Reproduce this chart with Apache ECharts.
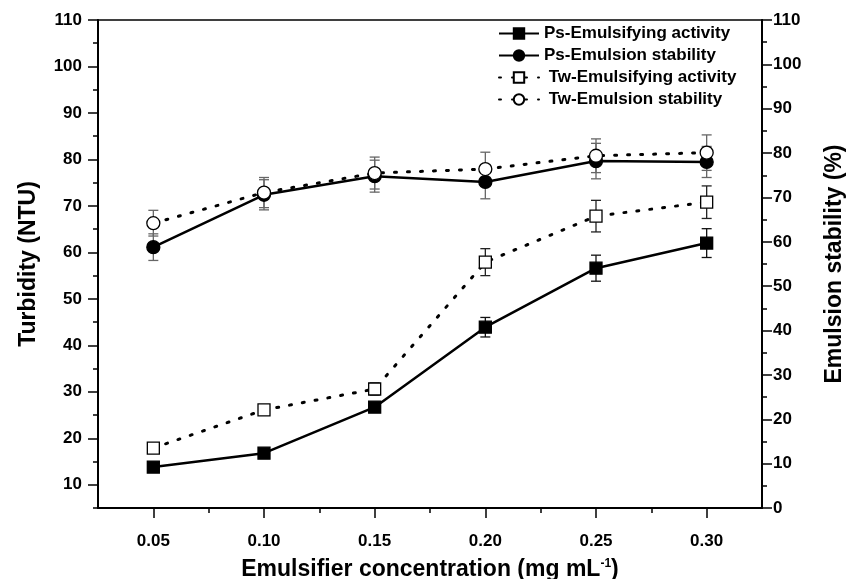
<!DOCTYPE html>
<html>
<head>
<meta charset="utf-8">
<script src="https://cdn.jsdelivr.net/npm/echarts@6/dist/echarts.min.js"></script>
<style>
    html, body { margin: 0; padding: 0; background: #fff; }
    #chart { width: 852px; height: 579px; }
</style>
</head>
<body>
<div id="chart"></div>
<script>
// values
const concentration = [0.05, 0.10, 0.15, 0.20, 0.25, 0.30];
const majorX = [0.05, 0.10, 0.15, 0.20, 0.25, 0.30];
const minorX = [0.075, 0.125, 0.175, 0.225, 0.275];
const leftTicks = [10, 20, 30, 40, 50, 60, 70, 80, 90, 100, 110];
const leftMinor = [5, 15, 25, 35, 45, 55, 65, 75, 85, 95, 105];

const psActivity = [13.8, 16.8, 26.7, 43.9, 56.6, 62.0];
const psActivityErr = [0.6, 0.6, 1.0, 2.1, 2.8, 3.1];
const twActivity = [17.9, 26.1, 30.6, 57.9, 67.8, 70.8];
const twActivityErr = [0.6, 0.6, 1.3, 2.9, 3.4, 3.5];
const psStability = [58.8, 70.6, 74.8, 73.5, 78.2, 78.0];
const psStabilityErr = [3.0, 3.4, 3.6, 3.8, 4.0, 3.5];
const twStability = [64.2, 71.1, 75.5, 76.4, 79.4, 80.1];
const twStabilityErr = [2.9, 3.4, 3.6, 3.8, 3.8, 4.0];

const font = "Liberation Sans, Arial, sans-serif";

const pairs = function (ys, errs) {
    return concentration.map((x, i) => (errs ? [x, ys[i], errs[i]] : [x, ys[i]]));
};

const errorBar = function (ys, errs, yIndex, color) {
    return {
        type: "custom",
        xAxisIndex: 0,
        yAxisIndex: yIndex,
        z: 1,
        silent: true,
        data: pairs(ys, errs),
        encode: { x: 0, y: 1 },
        renderItem: function (params, api) {
            const x = api.value(0);
            const y = api.value(1);
            const e = api.value(2);
            const hi = api.coord([x, y + e]);
            const lo = api.coord([x, y - e]);
            const half = 5;
            const style = { stroke: color, lineWidth: 1.3 };
            return {
                type: "group",
                children: [
                    { type: "line", shape: { x1: hi[0], y1: hi[1], x2: lo[0], y2: lo[1] }, style: style },
                    { type: "line", shape: { x1: hi[0] - half, y1: hi[1], x2: hi[0] + half, y2: hi[1] }, style: style },
                    { type: "line", shape: { x1: lo[0] - half, y1: lo[1], x2: lo[0] + half, y2: lo[1] }, style: style },
                ],
            };
        },
    };
};

const lineSeries = function (name, ys, yIndex, symbol, size, filled, dotted) {
    return {
        name: name,
        type: "line",
        xAxisIndex: 0,
        yAxisIndex: yIndex,
        z: 3,
        data: pairs(ys),
        symbol: symbol,
        symbolSize: size,
        showAllSymbol: true,
        lineStyle: dotted
            ? { color: "#000", width: 3, type: [2, 11], cap: "round" }
            : { color: "#000", width: 2.5 },
        itemStyle: {
            color: filled ? "#000" : "#fff",
            borderColor: "#000",
            borderWidth: 1.3,
        },
    };
};

const axisLine = { show: true, lineStyle: { color: "#000", width: 2 } };
const labelStyle = { color: "#000", fontSize: 17, fontWeight: "bold", fontFamily: font };
const nameStyle = { color: "#000", fontSize: 23, fontWeight: "bold", fontFamily: font };

const chart = echarts.init(document.getElementById("chart"));

chart.setOption({
    animation: false,
    backgroundColor: "#fff",
    textStyle: { fontFamily: font },
    grid: {
        left: 98,
        right: 90,
        top: 20,
        bottom: 71,
        outerBoundsMode: "none",
        containLabel: false,
        show: true,
        borderColor: "#000",
        borderWidth: 1.5,
    },
    legend: {
        orient: "vertical",
        left: 498,
        top: 25,
        padding: 0,
        itemWidth: 40,
        itemHeight: 13,
        itemGap: 5,
        textStyle: { color: "#000", fontSize: 17, fontWeight: "bold", fontFamily: font },
        formatter: (name) => (name.indexOf("Tw") === 0 ? " " + name : name),
        data: [
            "Ps-Emulsifying activity",
            "Ps-Emulsion stability",
            "Tw-Emulsifying activity",
            "Tw-Emulsion stability",
        ],
    },
    xAxis: [
        {
            type: "value",
            position: "bottom",
            min: 0.025,
            max: 0.325,
            interval: 0.025,
            axisLine: axisLine,
            splitLine: { show: false },
            axisTick: { customValues: majorX, length: 10, lineStyle: { color: "#000", width: 1.5 } },
            axisLabel: Object.assign({ customValues: majorX, margin: 25, formatter: (v) => v.toFixed(2) }, labelStyle),
            name: "{a|Emulsifier concentration (mg mL}{s|-1}{a|)}",
            nameLocation: "middle",
            nameGap: 50,
            nameTextStyle: {
                rich: {
                    a: nameStyle,
                    s: { color: "#000", fontSize: 12, fontWeight: "bold", fontFamily: font, verticalAlign: "top", padding: [0, 0, 12, 0] },
                },
            },
        },
        {
            type: "value",
            position: "bottom",
            min: 0.025,
            max: 0.325,
            interval: 0.025,
            axisLine: { show: false },
            splitLine: { show: false },
            axisTick: { customValues: minorX, length: 5, lineStyle: { color: "#000", width: 1.5 } },
            axisLabel: { show: false },
        },
    ],
    yAxis: [
        {
            type: "value",
            position: "left",
            min: 5,
            max: 110,
            interval: 5,
            axisLine: axisLine,
            splitLine: { show: false },
            axisTick: { customValues: leftTicks, length: 10, lineStyle: { color: "#000", width: 1.5 } },
            axisLabel: Object.assign({ customValues: leftTicks, margin: 16 }, labelStyle),
            name: "Turbidity (NTU)",
            nameLocation: "middle",
            nameGap: 58,
            nameTextStyle: nameStyle,
        },
        {
            type: "value",
            position: "right",
            min: 0,
            max: 110,
            interval: 10,
            axisLine: axisLine,
            splitLine: { show: false },
            axisTick: { length: 10, lineStyle: { color: "#000", width: 1.5 } },
            minorTick: { show: true, splitNumber: 2, length: 5, lineStyle: { color: "#000", width: 1.5 } },
            axisLabel: Object.assign({ margin: 11 }, labelStyle),
            name: "Emulsion stability (%)",
            nameLocation: "middle",
            nameGap: 61,
            nameRotate: 90,
            nameTextStyle: nameStyle,
        },
        {
            type: "value",
            position: "left",
            min: 5,
            max: 110,
            interval: 5,
            axisLine: { show: false },
            splitLine: { show: false },
            axisTick: { customValues: leftMinor, length: 5, lineStyle: { color: "#000", width: 1.5 } },
            axisLabel: { show: false },
        },
    ],
    series: [
        errorBar(psActivity, psActivityErr, 0, "#111"),
        errorBar(twActivity, twActivityErr, 0, "#222"),
        errorBar(psStability, psStabilityErr, 1, "#666"),
        errorBar(twStability, twStabilityErr, 1, "#666"),
        lineSeries("Ps-Emulsifying activity", psActivity, 0, "rect", 12, true, false),
        lineSeries("Ps-Emulsion stability", psStability, 1, "circle", 13, true, false),
        lineSeries("Tw-Emulsifying activity", twActivity, 0, "rect", 12, false, true),
        lineSeries("Tw-Emulsion stability", twStability, 1, "circle", 13, false, true),
    ],
});
</script>
</body>
</html>
